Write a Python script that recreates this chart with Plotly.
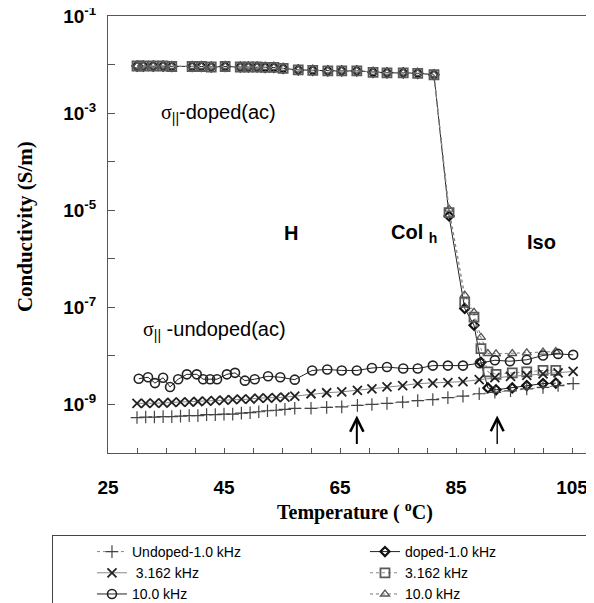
import plotly.graph_objects as go

# ---------------- data ----------------
# Undoped (temperature in degC, conductivity in S/m)
undoped_T = [30, 31.5, 33, 34.5, 36, 37.5, 39, 40.5, 42, 43.5, 45, 46.5, 48, 49.5, 51, 52.5,
             54, 55.5, 57.2, 60, 62.7, 65.3, 68, 70.5, 73.1, 75.8, 78.4, 81, 83.6, 86.2, 89,
             91.7, 94.4, 97.2, 100, 102.6, 105.2]
undoped_1k = [5.37e-10, 5.50e-10, 5.50e-10, 5.62e-10, 5.62e-10, 5.75e-10, 5.89e-10, 5.89e-10,
              6.17e-10, 6.17e-10, 6.31e-10, 6.31e-10, 6.61e-10, 6.76e-10, 7.08e-10, 7.41e-10,
              7.59e-10, 7.94e-10, 8.32e-10, 8.32e-10, 8.71e-10, 8.91e-10, 9.55e-10, 1.00e-9,
              1.05e-9, 1.12e-9, 1.20e-9, 1.26e-9, 1.38e-9, 1.48e-9, 1.66e-9, 1.78e-9, 1.91e-9,
              2.09e-9, 2.24e-9, 2.45e-9, 2.69e-9]
undoped_3k = [1.05e-9, 1.05e-9, 1.07e-9, 1.07e-9, 1.10e-9, 1.12e-9, 1.12e-9, 1.15e-9, 1.17e-9,
              1.20e-9, 1.23e-9, 1.26e-9, 1.29e-9, 1.29e-9, 1.35e-9, 1.35e-9, 1.38e-9, 1.41e-9,
              1.48e-9, 1.66e-9, 1.74e-9, 1.82e-9, 1.95e-9, 2.09e-9, 2.29e-9, 2.45e-9, 2.69e-9,
              2.75e-9, 2.82e-9, 2.95e-9, 3.24e-9, 3.55e-9, 3.80e-9, 3.98e-9, 4.27e-9, 4.47e-9,
              4.79e-9]
undoped10_T = [30.3, 31.9, 33.1, 34.5, 35.7, 37.1, 38.6, 40.3, 41.4, 42.6, 43.8, 45.5, 46.9, 48.6,
               50.3, 52.6, 54.7, 57.2, 60.2, 62.8, 65.3, 67.9, 70.5, 73.1, 75.9, 78.4, 81, 83.6,
               86.2, 89.1, 91.7, 94.3, 97.2, 100, 102.6, 105.2]
undoped_10k = [3.39e-9, 3.63e-9, 2.75e-9, 3.55e-9, 2.29e-9, 3.31e-9, 4.17e-9, 4.17e-9, 3.31e-9,
               3.31e-9, 3.31e-9, 4.17e-9, 4.47e-9, 3.09e-9, 3.31e-9, 3.80e-9, 3.63e-9, 3.24e-9,
               5.01e-9, 5.25e-9, 5.01e-9, 5.01e-9, 5.62e-9, 5.89e-9, 5.50e-9, 5.50e-9, 6.31e-9,
               6.31e-9, 6.31e-9, 7.08e-9, 8.13e-9, 7.76e-9, 8.32e-9, 1.02e-8, 1.10e-8, 1.05e-8]

# Doped
doped_T = [30, 31.1, 32.8, 34.5, 36, 39.5, 41.1, 42.8, 45.2, 47.8, 49.2, 50.7, 52.1, 53.6, 55.2,
           57.8, 60.3, 62.9, 65.3, 67.9, 70.7, 73.1, 75.9, 78.4, 81.2, 83.8, 86.5, 88.1, 89.3,
           90.5, 91.9, 94.7, 97.2, 100, 102.2]
doped_1k = [9.33e-3, 9.33e-3, 9.33e-3, 9.33e-3, 9.12e-3, 9.12e-3, 9.12e-3, 8.91e-3, 9.12e-3,
            8.91e-3, 8.91e-3, 8.91e-3, 8.71e-3, 8.71e-3, 8.32e-3, 7.76e-3, 7.59e-3, 7.41e-3,
            7.41e-3, 7.41e-3, 6.92e-3, 6.76e-3, 6.76e-3, 6.61e-3, 6.17e-3,
            7.6e-6, 9.5e-8, 4.3e-8, 7.4e-9, 2.19e-9, 2.0e-9, 2.19e-9, 2.45e-9, 2.69e-9, 2.75e-9]
doped_3k = [9.33e-3, 9.33e-3, 9.33e-3, 9.33e-3, 9.12e-3, 9.12e-3, 9.12e-3, 8.91e-3, 9.12e-3,
            8.91e-3, 8.91e-3, 8.91e-3, 8.71e-3, 8.71e-3, 8.32e-3, 7.76e-3, 7.59e-3, 7.41e-3,
            7.41e-3, 7.41e-3, 6.92e-3, 6.76e-3, 6.76e-3, 6.61e-3, 6.17e-3,
            8.9e-6, 1.26e-7, 6.3e-8, 1.41e-8, 4.68e-9, 4.17e-9, 4.47e-9, 4.68e-9, 5.01e-9, 5.01e-9]
doped_10k = [9.33e-3, 9.33e-3, 9.33e-3, 9.33e-3, 9.12e-3, 9.12e-3, 9.12e-3, 8.91e-3, 9.12e-3,
             8.91e-3, 8.91e-3, 8.91e-3, 8.71e-3, 8.71e-3, 8.32e-3, 7.76e-3, 7.59e-3, 7.41e-3,
             7.41e-3, 7.41e-3, 6.92e-3, 6.76e-3, 6.76e-3, 6.61e-3, 6.17e-3,
             1.05e-5, 1.78e-7, 7.9e-8, 2.4e-8, 1.12e-8, 1.10e-8, 1.12e-8, 1.15e-8, 1.20e-8, 1.23e-8]

# axis ticks
x_labelvals = [25, 45, 65, 85, 105]
x_labeltext = ["25", "45", "65", "85", "105"]
x_minorvals = [30, 35, 40, 50, 55, 60, 70, 75, 80, 90, 95, 100]
y_labelvals = [1e-9, 1e-7, 1e-5, 1e-3, 1e-1]
y_labeltext = ["10<sup>-9</sup>", "10<sup>-7</sup>", "10<sup>-5</sup>", "10<sup>-3</sup>",
               "10<sup>-1</sup>"]
y_minorvals = [1e-10, 1e-8, 1e-6, 1e-4, 1e-2]

# phase labels / arrows
phase_labels = ["H", "Col <sub>h</sub>", "Iso"]
phase_T = [56.6, 77.8, 99.7]
phase_logy = [-5.47, -5.47, -5.66]
arrow_T = [67.9, 92.1]

# ---------------- figure ----------------
fig = go.Figure()

SANS = "Liberation Sans"
SERIF = "Liberation Serif"

# doped (diamonds underneath, squares on top)
fig.add_trace(go.Scatter(x=doped_T, y=doped_1k, name="doped-1.0 kHz", legendrank=2,
                         mode="lines+markers",
                         line=dict(color="#222222", width=1),
                         marker=dict(symbol="diamond-open", size=7, color="#111111",
                                     line=dict(width=2.2, color="#111111"))))
fig.add_trace(go.Scatter(x=doped_T, y=doped_10k, name="10.0 kHz", legendrank=6,
                         mode="lines+markers",
                         line=dict(color="#777777", width=1, dash="dot"),
                         marker=dict(symbol="triangle-up-open", size=8, color="#555555",
                                     line=dict(width=1.3, color="#555555"))))
fig.add_trace(go.Scatter(x=doped_T, y=doped_3k, name="3.162 kHz", legendrank=4,
                         mode="lines+markers",
                         line=dict(color="#888888", width=1, dash="dot"),
                         marker=dict(symbol="square-open", size=9, color="#5a5a5a",
                                     line=dict(width=1.8, color="#5a5a5a"))))
# undoped
fig.add_trace(go.Scatter(x=undoped_T, y=undoped_1k, name="Undoped-1.0 kHz", legendrank=1,
                         mode="lines+markers",
                         line=dict(color="#888888", width=1, dash="dot"),
                         marker=dict(symbol="cross-thin", size=9, color="#444444",
                                     line=dict(width=1.2, color="#444444"))))
fig.add_trace(go.Scatter(x=undoped_T, y=undoped_3k, name=" 3.162 kHz", legendrank=3,
                         mode="lines+markers",
                         line=dict(color="#888888", width=1),
                         marker=dict(symbol="x-thin", size=9, color="#222222",
                                     line=dict(width=1.8, color="#222222"))))
fig.add_trace(go.Scatter(x=undoped10_T, y=undoped_10k, name="10.0 kHz ", legendrank=5,
                         mode="lines+markers",
                         line=dict(color="#222222", width=1),
                         marker=dict(symbol="circle-open", size=9, color="#222222",
                                     line=dict(width=1.6, color="#222222"))))

annotations = []
for txt, t, ly in zip(phase_labels, phase_T, phase_logy):
    annotations.append(dict(x=t, y=ly, xref="x", yref="y", text=txt, showarrow=False,
                            font=dict(family=SANS, size=20, color="black", weight="bold")))
annotations.append(dict(x=44.1, y=-3.0, xref="x", yref="y", showarrow=False,
                        text="<span style='font-family:Liberation Serif'>σ</span><sub>||</sub>-doped(ac)",
                        font=dict(family=SANS, size=20, color="black")))
annotations.append(dict(x=43.4, y=-7.47, xref="x", yref="y", showarrow=False,
                        text="<span style='font-family:Liberation Serif'>σ</span><sub>||</sub> -undoped(ac)",
                        font=dict(family=SANS, size=20, color="black")))
for i, t in enumerate(arrow_T):
    annotations.append(dict(x=t, y=-9.23, xref="x", yref="y", text="", showarrow=True,
                            ax=0, ay=30, arrowhead=5, arrowsize=1.3 if i == 0 else 1.8,
                            arrowwidth=2 if i == 0 else 1.4, arrowcolor="black"))
annotations.append(dict(x=0.5, y=-0.133, xref="paper", yref="paper", showarrow=False,
                        text="Temperature ( <sup>o</sup>C)", xanchor="center", yanchor="middle",
                        font=dict(family=SERIF, size=20, color="black", weight="bold")))
annotations.append(dict(x=-0.168, y=0.517, xref="paper", yref="paper", showarrow=False,
                        text="Conductivity (S/m)", textangle=-90,
                        xanchor="center", yanchor="middle",
                        font=dict(family=SERIF, size=21, color="black", weight="bold")))

fig.update_layout(
    width=594, height=603,
    margin=dict(l=100, r=0, t=8, b=158, autoexpand=False),
    paper_bgcolor="white", plot_bgcolor="white",
    showlegend=True,
    legend=dict(orientation="h", x=-0.1134, y=-0.1876, xanchor="left", yanchor="top",
                bgcolor="white", bordercolor="#444444", borderwidth=1,
                entrywidth=189, entrywidthmode="pixels", indentation=39,
                font=dict(family=SANS, size=14, color="black"),
                traceorder="normal"),
    annotations=annotations,
)

fig.update_xaxes(range=[25, 110.17], tickmode="array", tickvals=x_labelvals, ticktext=x_labeltext,
                 ticks="inside", ticklen=5, tickcolor="#555555", tickwidth=1,
                 minor=dict(tickmode="array", tickvals=x_minorvals, ticks="inside", ticklen=5,
                            tickcolor="#555555", tickwidth=1, showgrid=False),
                 showline=True, linecolor="#555555", linewidth=1, mirror=True,
                 showgrid=False, zeroline=False, ticklabelstandoff=17,
                 ticklabeloverflow="allow",
                 tickfont=dict(family=SANS, size=19, color="black", weight="bold"))
fig.update_yaxes(type="log", range=[-10, -1], tickmode="array", tickvals=y_labelvals,
                 ticktext=y_labeltext,
                 ticks="inside", ticklen=7, tickcolor="#555555", tickwidth=1,
                 minor=dict(tickmode="array", tickvals=y_minorvals, ticks="inside", ticklen=7,
                            tickcolor="#555555", tickwidth=1, showgrid=False),
                 showline=True, linecolor="#555555", linewidth=1, mirror=False,
                 showgrid=False, zeroline=False, ticklabelstandoff=7,
                 ticklabeloverflow="allow",
                 tickfont=dict(family=SANS, size=19, color="black", weight="bold"))

fig.write_html("out.html")
